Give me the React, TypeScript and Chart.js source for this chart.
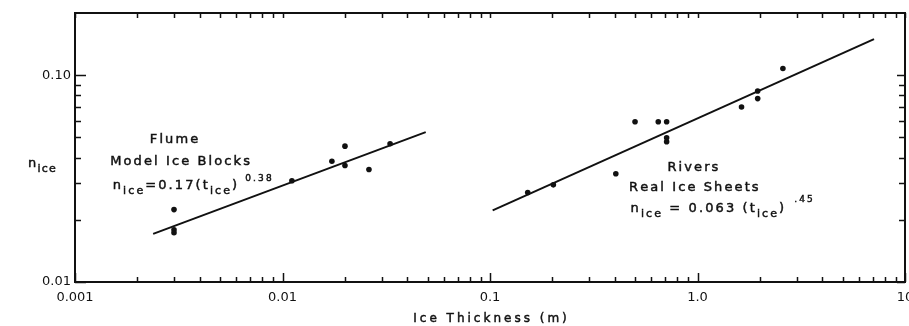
import React, { useEffect, useRef } from "react";
import { Chart, registerables } from "chart.js";

Chart.register(...registerables);

// ---- data ----
const flumeThickness = [0.003, 0.003, 0.003, 0.0111, 0.0173, 0.02, 0.02, 0.0261, 0.033];
const flumeN = [0.0224, 0.0179, 0.0173, 0.0309, 0.0384, 0.0454, 0.0366, 0.035, 0.0466];

const riverThickness = [0.152, 0.202, 0.404, 0.5, 0.647, 0.71, 0.71, 0.71, 1.63, 1.95, 1.95, 2.58];
const riverN = [0.0271, 0.0295, 0.0334, 0.0596, 0.0596, 0.0596, 0.0498, 0.0477, 0.0702, 0.0771, 0.0839, 0.1078];

const flumeFitThickness = [0.00238, 0.049];
const flumeFitN = [0.0171, 0.0531];
const riverFitThickness = [0.103, 7.09];
const riverFitN = [0.0222, 0.1496];

const xTickValues = [0.001, 0.01, 0.1, 1, 10];
const xTickLabels = ["0.001", "0.01", "0.1", "1.0", "10"];
const yTickValues = [0.01, 0.1];
const yTickLabels = ["0.01", "0.10"];
const minorMultipliers = [2, 3, 4, 5, 6, 7, 8, 9];
const xDecades = [0.001, 0.01, 0.1, 1];
const yDecades = [0.01];

const xAxisTitle = "Ice Thickness (m)";
const yAxisMain = "n";
const yAxisSub = "ice";

const INK = "#111111";
const FONT = '"DejaVu Sans", sans-serif';

type Run = { text: string; size: number; dy: number; gap?: number };
type Note = { align: "center" | "left"; x: number; y: number; runs: Run[] };

const notes: Note[] = [
  { align: "center", x: 0.003, y: 0.0495, runs: [{ text: "Flume", size: 13, dy: 0 }] },
  { align: "center", x: 0.00321, y: 0.0389, runs: [{ text: "Model Ice Blocks", size: 13, dy: 0 }] },
  {
    align: "left",
    x: 0.00152,
    y: 0.0281,
    runs: [
      { text: "n", size: 13, dy: 0 },
      { text: "ice", size: 11, dy: 5 },
      { text: "=0.17(", size: 13, dy: 0 },
      { text: "t", size: 13, dy: 0 },
      { text: "ice", size: 11, dy: 5 },
      { text: ")", size: 13, dy: 0 },
      { text: "0.38", size: 9, dy: -8, gap: 6 },
    ],
  },
  { align: "center", x: 0.95, y: 0.0364, runs: [{ text: "Rivers", size: 13, dy: 0 }] },
  { align: "center", x: 0.96, y: 0.0291, runs: [{ text: "Real Ice Sheets", size: 13, dy: 0 }] },
  {
    align: "left",
    x: 0.476,
    y: 0.0217,
    runs: [
      { text: "n", size: 13, dy: 0 },
      { text: "ice", size: 11, dy: 5 },
      { text: " = 0.063 (", size: 13, dy: 0 },
      { text: "t", size: 13, dy: 0 },
      { text: "ice", size: 11, dy: 5 },
      { text: ")", size: 13, dy: 0 },
      { text: ".45", size: 9, dy: -10, gap: 8 },
    ],
  },
];

function runWidth(ctx: CanvasRenderingContext2D, r: Run, spacing: number) {
  ctx.font = `${r.size}px ${FONT}`;
  let w = r.gap || 0;
  for (const ch of r.text) w += ctx.measureText(ch).width + spacing;
  return w;
}

function drawRuns(ctx: CanvasRenderingContext2D, runs: Run[], x: number, y: number, align: "center" | "left", spacing: number) {
  const widths = runs.map((r) => runWidth(ctx, r, spacing));
  const total = widths.reduce((s, w) => s + w, 0) - spacing;
  let cx = align === "center" ? x - total / 2 : x;
  runs.forEach((r) => {
    ctx.font = `${r.size}px ${FONT}`;
    cx += r.gap || 0;
    for (const ch of r.text) {
      ctx.fillText(ch, cx, y + r.dy);
      ctx.strokeText(ch, cx, y + r.dy);
      cx += ctx.measureText(ch).width + spacing;
    }
  });
}

const framePlugin = {
  id: "frame",
  afterDraw(chart: any) {
    const { ctx, chartArea: a, scales } = chart;
    const xs = scales.x;
    const ys = scales.y;
    ctx.save();
    ctx.strokeStyle = INK;
    ctx.fillStyle = INK;
    ctx.lineWidth = 2;
    ctx.strokeRect(a.left, a.top, a.right - a.left, a.bottom - a.top);

    ctx.lineWidth = 1.5;
    ctx.beginPath();
    // x ticks (bottom & top)
    xDecades.forEach((d) => {
      minorMultipliers.forEach((m) => {
        const px = Math.round(xs.getPixelForValue(d * m)) + 0.5;
        ctx.moveTo(px, a.bottom);
        ctx.lineTo(px, a.bottom - 5);
        ctx.moveTo(px, a.top);
        ctx.lineTo(px, a.top + 5);
      });
    });
    xTickValues.forEach((v) => {
      const px = Math.round(xs.getPixelForValue(v)) + 0.5;
      ctx.moveTo(px, a.bottom);
      ctx.lineTo(px, a.bottom - 9);
      ctx.moveTo(px, a.top);
      ctx.lineTo(px, a.top + 5);
    });
    // y ticks (left & right)
    yDecades.forEach((d) => {
      minorMultipliers.forEach((m) => {
        const py = Math.round(ys.getPixelForValue(d * m)) + 0.5;
        ctx.moveTo(a.left, py);
        ctx.lineTo(a.left + 6, py);
        ctx.moveTo(a.right, py);
        ctx.lineTo(a.right - 6, py);
      });
    });
    yTickValues.forEach((v) => {
      const py = Math.round(ys.getPixelForValue(v)) + 0.5;
      ctx.moveTo(a.left, py);
      ctx.lineTo(a.left + 11, py);
      ctx.moveTo(a.right, py);
      ctx.lineTo(a.right - 8, py);
    });
    ctx.stroke();

    // annotations
    ctx.textBaseline = "alphabetic";
    ctx.textAlign = "left";
    ctx.lineWidth = 0.45;
    notes.forEach((n) => {
      const px = xs.getPixelForValue(n.x);
      const py = ys.getPixelForValue(n.y) + (n.align === "center" ? 5 : 0);
      drawRuns(ctx, n.runs, px, py, n.align, 2.1);
    });

    // y axis title
    const ty = ys.getPixelForValue(0.036);
    drawRuns(
      ctx,
      [
        { text: yAxisMain, size: 13, dy: 0 },
        { text: yAxisSub, size: 11, dy: 5 },
      ],
      a.left - 47,
      ty,
      "left",
      1.2
    );

    // x axis title
    drawRuns(ctx, [{ text: xAxisTitle, size: 12, dy: 0 }], (a.left + a.right) / 2, a.bottom + 40, "center", 3);
    ctx.restore();
  },
};

function toPoints(xs: number[], ys: number[]) {
  return xs.map((x, i) => ({ x, y: ys[i] }));
}

export default function App() {
  const ref = useRef<HTMLCanvasElement | null>(null);
  useEffect(() => {
    document.body.style.margin = "0";
    const canvas = ref.current;
    if (!canvas) return;
    const chart = new Chart(canvas, {
      type: "scatter",
      data: {
        datasets: [
          {
            data: toPoints(flumeFitThickness, flumeFitN),
            showLine: true,
            borderColor: INK,
            borderWidth: 2,
            pointRadius: 0,
          },
          {
            data: toPoints(riverFitThickness, riverFitN),
            showLine: true,
            borderColor: INK,
            borderWidth: 2,
            pointRadius: 0,
          },
          {
            data: toPoints(flumeThickness, flumeN),
            pointRadius: 2.8,
            pointBackgroundColor: INK,
            pointBorderWidth: 0,
          },
          {
            data: toPoints(riverThickness, riverN),
            pointRadius: 2.8,
            pointBackgroundColor: INK,
            pointBorderWidth: 0,
          },
        ],
      },
      options: {
        animation: false,
        responsive: false,
        devicePixelRatio: 1,
        layout: { padding: { top: 13, right: 4, left: 0, bottom: 0 } },
        plugins: { legend: { display: false }, tooltip: { enabled: false } },
        scales: {
          x: {
            type: "logarithmic",
            min: 0.001,
            max: 10,
            afterBuildTicks: (s: any) => {
              s.ticks = xTickValues.map((v) => ({ value: v }));
            },
            afterFit: (s: any) => {
              s.height = 44;
              s.paddingLeft = 0;
              s.paddingRight = 0;
            },
            grid: { display: false, drawTicks: false },
            border: { display: false },
            ticks: {
              autoSkip: false,
              maxRotation: 0,
              padding: 8,
              color: INK,
              font: { family: FONT, size: 13 },
              callback: (v: any) => {
                const i = xTickValues.findIndex((t) => Math.abs(t - Number(v)) < t * 1e-6);
                return i >= 0 ? xTickLabels[i] : "";
              },
            },
          },
          y: {
            type: "logarithmic",
            min: 0.01,
            max: 0.2,
            afterBuildTicks: (s: any) => {
              s.ticks = yTickValues.map((v) => ({ value: v }));
            },
            afterFit: (s: any) => {
              s.width = 75;
              s.paddingTop = 0;
              s.paddingBottom = 0;
            },
            grid: { display: false, drawTicks: false },
            border: { display: false },
            ticks: {
              autoSkip: false,
              padding: 4,
              color: INK,
              font: { family: FONT, size: 13 },
              callback: (v: any) => {
                const i = yTickValues.findIndex((t) => Math.abs(t - Number(v)) < t * 1e-6);
                return i >= 0 ? yTickLabels[i] : "";
              },
            },
          },
        },
      },
      plugins: [framePlugin],
    } as any);
    return () => chart.destroy();
  }, []);
  return <canvas ref={ref} width={909} height={326} style={{ display: "block" }} />;
}
